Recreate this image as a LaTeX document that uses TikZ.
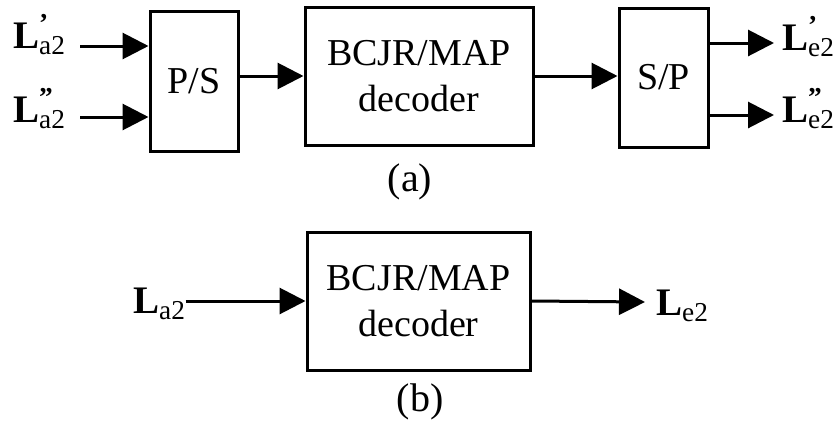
\documentclass[tikz,border=0pt]{standalone}
\usepackage{amsmath}
\usepackage{fontspec}
\setmainfont{Liberation Serif}
\usetikzlibrary{arrows.meta}

\tikzset{
  blk/.style={draw, line width=3pt, inner sep=0pt, align=center,
    font=\fontsize{38}{46}\selectfont},
  arr/.style={line width=3pt, -{Triangle[length=26pt,width=26pt]}},
  lbl/.style={anchor=base west, inner sep=0pt, font=\fontsize{39}{42}\selectfont},
  subcap/.style={inner sep=0pt, font=\fontsize{40}{44}\selectfont},
}
\newcommand{\llrval}[2]{$\text{\bfseries L}^{\text{\bfseries #2}}_{\text{#1}}$}

\begin{document}
\begin{tikzpicture}[x=1pt,y=-1pt]
    \useasboundingbox (0,0) rectangle (838,423);

    % (a)
    \node[blk, minimum width=88, minimum height=140] (ps) at (194,81) {P/S};
    \node[blk, minimum width=228, minimum height=138] (deca) at (419,76) {BCJR/MAP\\decoder};
    \node[blk, minimum width=89, minimum height=139] (sp) at (663.5,77.5) {S/P};

    \node[lbl] (la1) at (13,48) {\llrval{a2}{’}};
    \node[lbl] (la2) at (13,122) {\llrval{a2}{”}};
    \node[lbl] (le1) at (782,50) {\llrval{e2}{’}};
    \node[lbl] (le2) at (782,122) {\llrval{e2}{”}};

    \coordinate (in1) at (80,46);
    \coordinate (in2) at (80,117);
    \coordinate (out1) at (774,43);
    \coordinate (out2) at (774,115);

    \draw[arr] (in1) -- (in1 -| ps.west);
    \draw[arr] (in2) -- (in2 -| ps.west);
    \draw[arr] (ps.east |- deca) -- (deca.west);
    \draw[arr] (deca.east) -- (deca.east -| sp.west);
    \draw[arr] (out1 -| sp.east) -- (out1);
    \draw[arr] (out2 -| sp.east) -- (out2);

    \node[subcap] (capa) at (410,182) {(a)};

    % (b)
    \node[blk, minimum width=223, minimum height=138] (decb) at (418.5,301) {BCJR/MAP\\decoder};
    \node[lbl] (lb) at (133,313) {\llrval{a2}{}};
    \node[lbl] (lo) at (656,315) {\llrval{e2}{}};
    \coordinate (outb) at (645,302);

    \draw[arr] (lb.east |- decb) -- (decb.west);
    \draw[arr] (decb.east) -- (outb);

    \node[subcap] (capb) at (420,402) {(b)};

\end{tikzpicture}
\end{document}
